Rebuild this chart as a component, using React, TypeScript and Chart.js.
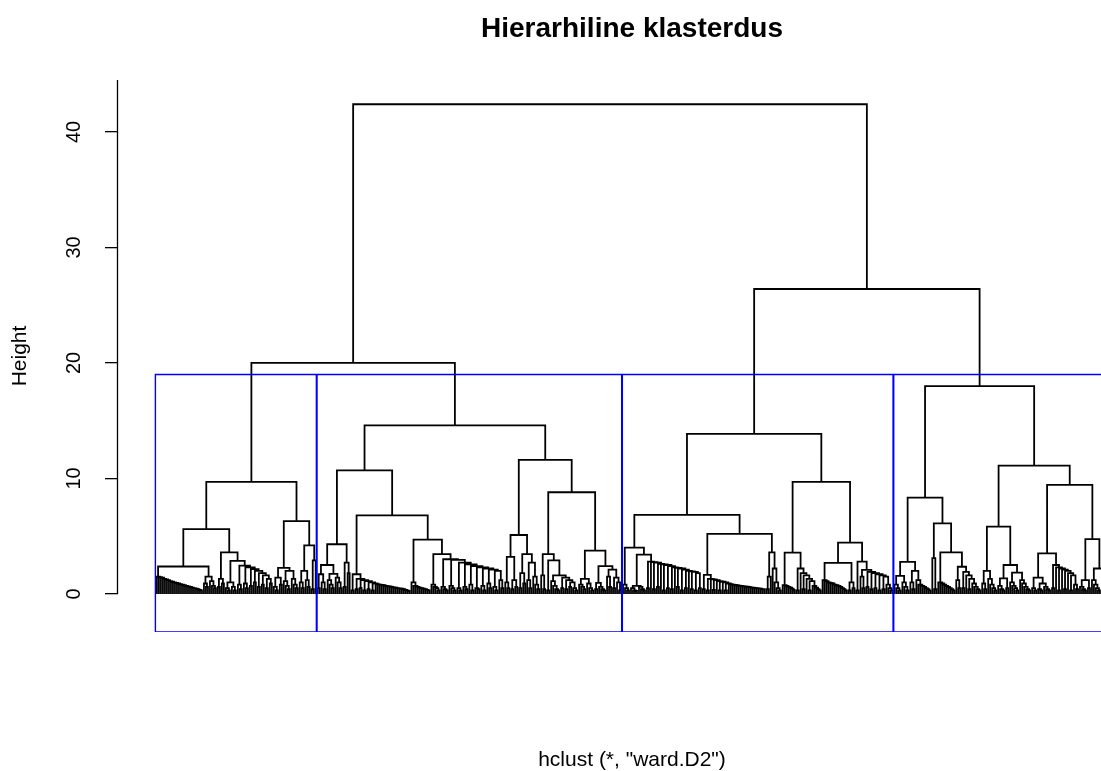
import { useEffect, useRef } from 'react';
import { Chart, registerables } from 'chart.js';

Chart.register(...registerables);

type Node = 0 | [number, Node, Node];

// ---- texts / axis values ----
const TITLE = 'Hierarhiline klasterdus';
const X_TITLE = 'hclust (*, "ward.D2")';
const Y_TITLE = 'Height';
const Y_TICKS = [0, 10, 20, 30, 40];
const Y_MIN = -3.3;
const Y_MAX = 44.5;
const K_CLUSTERS = 4;

// ---- merge heights of the long staircases ----
const c1StairA = [1.5, 1.45, 1.4, 1.3, 1.25, 1.2, 1.1, 1.05, 1.0, 0.95, 0.9, 0.85, 0.8, 0.75, 0.7, 0.65, 0.6, 0.55, 0.5, 0.45, 0.4, 0.35, 0.3];
const c1StairB = [2.45, 2.3, 2.15, 2.0, 1.8, 1.6, 1.3];
const c2LowA = [0.85, 0.8, 0.78, 0.75, 0.7, 0.68, 0.65, 0.6, 0.57, 0.55, 0.5, 0.47, 0.45, 0.4, 0.35, 0.3, 0.25];
const c2StairA = [1.3, 1.2, 1.1, 1.0, 0.9];
const c2LowB = [0.7, 0.6, 0.55, 0.5, 0.45, 0.4, 0.35, 0.3];
const c2StairB = [3.0, 2.95, 2.7, 2.55, 2.4, 2.3, 2.2, 2.1, 2.0];
const c3StairA = [2.8, 2.75, 2.7, 2.6, 2.55, 2.5, 2.4, 2.3, 2.25, 2.2, 2.1, 2.0, 1.95, 1.9, 1.8];
const c3StairB = [1.3, 1.25, 1.2, 1.1, 1.05, 1.0, 0.9, 0.85];
const c3LowA = [0.8, 0.78, 0.75, 0.72, 0.7, 0.68, 0.65, 0.62, 0.6, 0.57, 0.55, 0.52, 0.5, 0.47, 0.45, 0.42, 0.4];
const c3LowB = [1.2, 1.1, 1.0, 0.95, 0.9, 0.8, 0.75, 0.7, 0.6, 0.5, 0.4, 0.3];
const c4StairA = [2.5, 2.3, 2.2, 2.1, 2.0, 1.8, 1.6];

// ---- tree helpers ----
const L: Node = 0;
const m = (h: number, a: Node, b: Node): Node => [h, a, b];
const p = (h: number): Node => [h, L, L];
const t = (h1: number, h2: number): Node => [h1, L, [h2, L, L]];
function chain(hs: number[], parts: Node[]): Node {
  let node = parts[parts.length - 1];
  for (let i = hs.length - 1; i >= 0; i--) node = [hs[i], parts[i], node];
  return node;
}
function comb(hs: number[]): Node {
  return chain(hs, new Array(hs.length + 1).fill(L));
}

// ---- the four clusters ----
const cluster1: Node = m(9.7,
  m(5.6,
    m(2.37, comb(c1StairA), m(1.5, comb([0.9, 0.6]), comb([1.1, 0.7, 0.5]))),
    m(3.6,
      m(1.3, p(0.6), p(0.9)),
      m(2.86,
        m(1.0, comb([0.5, 0.3]), comb([0.6, 0.3])),
        chain(c1StairB, [t(0.8, 0.4), t(0.9, 0.5), p(0.7), p(1.0), p(0.6), p(0.8), p(0.5), p(0.9)])))),
  m(6.3,
    m(2.25, m(1.4, comb([0.6, 0.3]), p(0.8)), m(2.0, comb([1.1, 0.7, 0.4]), comb([1.3, 0.8, 0.5]))),
    m(4.2, m(2.0, comb([1.0, 0.5]), comb([1.2, 0.6])), m(2.9, p(0.4), L))));

const cluster2: Node = m(14.6,
  m(10.7,
    m(4.3,
      m(2.5, m(1.7, p(0.5), comb([1.0, 0.4])), m(1.73, comb([1.2, 0.8, 0.5]), comb([1.4, 1.0, 0.5]))),
      m(2.7, p(0.6), p(1.8))),
    m(6.8,
      m(1.7, p(0.3), chain(c2StairA, [p(0.4), p(0.5), p(0.3), p(0.4), p(0.3), comb(c2LowA)])),
      m(4.7,
        m(1.0, L, comb(c2LowB)),
        m(3.45,
          comb([0.8, 0.6, 0.5, 0.3]),
          chain(c2StairB, [comb([0.6, 0.4, 0.3]), comb([0.7, 0.5, 0.3]), t(0.5, 0.3), t(0.6, 0.4), t(0.8, 0.3), t(0.5, 0.4), t(0.7, 0.3), t(0.9, 0.5), t(0.6, 0.3), t(1.2, 0.5)]))))),
  m(11.6,
    m(5.1,
      m(3.2, comb([1.0, 0.5]), m(1.2, p(0.4), p(0.6))),
      m(3.45, m(1.8, p(0.5), p(0.9)), m(2.7, t(1.2, 0.5), comb([1.5, 0.8, 0.4])))),
    m(8.8,
      m(3.45, m(1.6, L, p(0.4)), m(2.9, p(0.3), m(1.6, comb([1.1, 0.7, 0.4, 0.3]), chain([1.4, 1.2, 1.0], [p(0.5), p(0.4), p(0.6), comb([0.5, 0.3])])))),
      m(3.75,
        m(1.3, comb([0.8, 0.6, 0.4]), comb([0.9, 0.5, 0.3])),
        m(2.4, m(0.95, p(0.4), comb([0.6, 0.4, 0.3])), m(2.1, t(1.5, 0.6), chain([1.4, 1.0], [p(0.5), L, p(0.3)])))))));

const cluster3: Node = m(13.85,
  m(6.84,
    m(4.0,
      m(0.8, L, comb([0.5, 0.3])),
      m(3.4, m(0.7, comb([0.5, 0.3, 0.25]), comb([0.6, 0.4, 0.3])),
        chain(c3StairA, [p(0.5), L, p(0.4), p(0.6), L, p(0.3), p(0.5), p(0.4), L, p(0.6), p(0.3), p(0.5), L, p(0.4), p(0.3), p(0.5)]))),
    m(5.2,
      m(1.65, p(0.4), chain(c3StairB, [p(0.3), L, p(0.35), L, p(0.3), L, p(0.3), L, comb(c3LowA)])),
      m(3.6, m(1.5, p(0.4), L), m(2.2, L, comb([1.0, 0.5, 0.3]))))),
  m(9.7,
    m(3.58, comb([0.75, 0.7, 0.6, 0.55, 0.45, 0.35]),
      m(2.2, p(0.3), chain([1.8, 1.6, 1.3, 1.1], [L, p(0.4), L, p(0.3), comb([0.7, 0.55, 0.4, 0.3])]))),
    m(4.44,
      m(2.68, comb(c3LowB), m(1.0, p(0.3), p(0.5))),
      m(2.8, p(0.3), m(2.08, m(1.5, L, p(0.5)), chain([1.9, 1.8, 1.7, 1.6, 1.5], [p(0.6), p(0.4), p(0.5), p(0.3), p(0.4), comb([0.8, 0.5, 0.3])]))))));

const cluster4: Node = m(18.0,
  m(8.34,
    m(2.77, m(1.56, comb([0.8, 0.5, 0.3]), comb([1.0, 0.6, 0.3])), m(2.0, t(1.0, 0.4), comb([1.2, 0.8, 0.7, 0.6, 0.5, 0.4, 0.3]))),
    m(6.1, m(3.1, L, p(0.4)),
      m(3.6, comb([1.0, 0.9, 0.8, 0.7, 0.6, 0.5, 0.4, 0.3]),
        m(2.35, m(1.2, L, p(0.5)), chain([1.9, 1.6, 1.3], [p(0.5), L, p(0.4), comb([0.9, 0.6, 0.4, 0.3])]))))),
  m(11.1,
    m(5.83,
      m(2.0, m(0.9, L, p(0.4)), comb([1.3, 0.8, 0.5, 0.3])),
      m(2.5, m(1.35, comb([0.7, 0.4, 0.3]), p(0.5)), m(1.85, comb([1.0, 0.7, 0.5, 0.3]), comb([1.2, 0.9, 0.6, 0.4, 0.3])))),
    m(9.44,
      m(3.5, m(1.4, comb([0.5, 0.3]), m(0.9, comb([0.4, 0.3]), comb([0.6, 0.4, 0.3]))),
        chain(c4StairA, [p(0.5), L, p(0.3), L, p(0.4), L, p(0.3), comb([0.8, 0.4])])),
      m(4.75, m(1.2, comb([0.6, 0.4, 0.3]), p(0.5)), m(2.2, comb([1.2, 0.8, 0.5, 0.3]), m(1.6, p(0.4), p(0.6)))))));

const tree: Node = m(42.4, m(20.0, cluster1, cluster2), m(26.4, cluster3, cluster4));

// ---- layout of the dendrogram (R plot.hclust convention) ----
type Pt = { x: number; y: number | null };
function leafCount(n: Node): number {
  return n === 0 ? 1 : leafCount(n[1]) + leafCount(n[2]);
}
function place(n: Node, counter: { i: number }, segs: Pt[]): { x: number; h: number } {
  if (n === 0) {
    counter.i += 1;
    return { x: counter.i, h: 0 };
  }
  const a = place(n[1], counter, segs);
  const b = place(n[2], counter, segs);
  segs.push({ x: a.x, y: a.h }, { x: a.x, y: n[0] }, { x: b.x, y: n[0] }, { x: b.x, y: b.h }, { x: b.x, y: null });
  return { x: (a.x + b.x) / 2, h: n[0] };
}
function allHeights(n: Node, out: number[]) {
  if (n === 0) return;
  out.push(n[0]);
  allHeights(n[1], out);
  allHeights(n[2], out);
}
function cut(n: Node, start: number, thr: number, out: [number, number][]) {
  if (n !== 0 && n[0] > thr) {
    const na = leafCount(n[1]);
    cut(n[1], start, thr, out);
    cut(n[2], start + na, thr, out);
  } else {
    out.push([start, start + leafCount(n) - 1]);
  }
}

const N = leafCount(tree);
const X_MIN = 1 - 0.04 * (N - 1);
const X_MAX = N + 0.04 * (N - 1);

const CANVAS_W = 1160;
const CANVAS_H = 771;
const PLOT_LEFT = 118;
const PLOT_RIGHT = 1146;
const PLOT_BOTTOM = 632;

export default function App() {
  const ref = useRef<HTMLCanvasElement>(null);
  useEffect(() => {
    document.body.style.margin = '0';
    const segs: Pt[] = [];
    place(tree, { i: 0 }, segs);
    const hs: number[] = [];
    allHeights(tree, hs);
    hs.sort((a, b) => b - a);
    const thr = (hs[K_CLUSTERS - 2] + hs[K_CLUSTERS - 1]) / 2;
    const groups: [number, number][] = [];
    cut(tree, 1, thr, groups);
    const rects: Pt[] = [];
    groups.forEach(([lo, hi]) => {
      const x1 = lo - 0.34;
      const x2 = hi + 0.33;
      rects.push({ x: x1, y: Y_MIN }, { x: x1, y: thr }, { x: x2, y: thr }, { x: x2, y: Y_MIN }, { x: x1, y: Y_MIN }, { x: x1, y: null });
    });

    Chart.defaults.font.family = "'Liberation Sans', Arial, sans-serif";
    Chart.defaults.color = '#000';

    const axisLine = {
      id: 'axisLine',
      afterDraw(chart: any) {
        const y = chart.scales.y;
        const { ctx, chartArea } = chart;
        ctx.save();
        ctx.strokeStyle = '#000';
        ctx.lineWidth = 1.3;
        ctx.beginPath();
        ctx.moveTo(chartArea.left - 0.5, y.getPixelForValue(Y_TICKS[0]));
        ctx.lineTo(chartArea.left - 0.5, chartArea.top);
        ctx.stroke();
        ctx.restore();
      },
    };

    const chart = new Chart(ref.current as HTMLCanvasElement, {
      type: 'scatter',
      data: {
        datasets: [
          { data: rects as any, showLine: true, borderColor: '#0000ff', borderWidth: 1.4, pointRadius: 0, order: 0, spanGaps: false },
          { data: segs as any, showLine: true, borderColor: '#000000', borderWidth: 1.8, pointRadius: 0, order: 1, spanGaps: false },
        ],
      },
      options: {
        responsive: false,
        animation: false,
        devicePixelRatio: 1,
        events: [],
        layout: { padding: { left: 0, right: CANVAS_W - PLOT_RIGHT, top: 0, bottom: 0 } },
        plugins: {
          legend: { display: false },
          tooltip: { enabled: false },
          title: {
            display: true,
            text: TITLE,
            fullSize: false,
            color: '#000',
            font: { size: 28, weight: 'bold', lineHeight: 1.2 },
            padding: { top: 12.2, bottom: 34.2 },
          },
        },
        scales: {
          x: {
            type: 'linear',
            min: X_MIN,
            max: X_MAX,
            ticks: { display: false },
            grid: { display: false },
            border: { display: false },
            title: { display: true, text: X_TITLE, color: '#000', font: { size: 21, lineHeight: 1 }, padding: { top: 0, bottom: 0.5 } },
            afterFit: (s: any) => { s.height = CANVAS_H - PLOT_BOTTOM; },
          },
          y: {
            type: 'linear',
            min: Y_MIN,
            max: Y_MAX,
            afterBuildTicks: (s: any) => { s.ticks = Y_TICKS.map((v) => ({ value: v })); },
            ticks: { minRotation: 90, maxRotation: 90, crossAlign: 'center', padding: 19, autoSkip: false, color: '#000', font: { size: 20 } },
            grid: { drawOnChartArea: false, drawTicks: true, tickLength: 13, color: '#000', lineWidth: 1.3 },
            border: { display: false },
            title: { display: true, text: Y_TITLE, color: '#000', font: { size: 21 }, padding: { top: 7.4, bottom: 0 } },
            afterFit: (s: any) => { s.width = PLOT_LEFT; },
          },
        },
      } as any,
      plugins: [axisLine],
    });
    return () => chart.destroy();
  }, []);

  return (
    <div style={{ width: 1101, height: 771, overflow: 'hidden', background: '#fff' }}>
      <canvas ref={ref} width={CANVAS_W} height={CANVAS_H} style={{ display: 'block' }} />
    </div>
  );
}
